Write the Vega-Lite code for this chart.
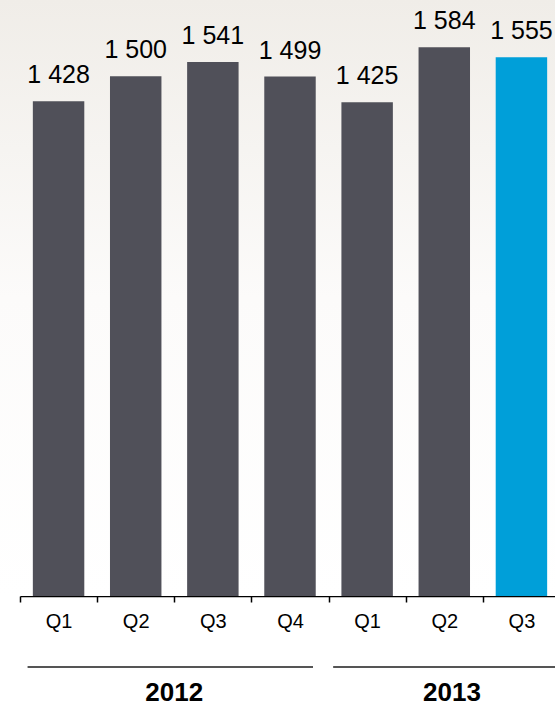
{
  "$schema": "https://vega.github.io/schema/vega-lite/v6.json",
  "width": 555,
  "height": 596,
  "autosize": {"type": "none"},
  "padding": {"left": 0, "top": 0, "right": 0, "bottom": 111},
  "background": "white",
  "config": {
    "view": {"stroke": null},
    "font": "Liberation Sans",
    "locale": {"number": {"decimal": ",", "thousands": " ", "grouping": [3], "currency": ["", ""]}}
  },
  "datasets": {
    "sales": [
      {"quarter": "2012 Q1", "value": 1428},
      {"quarter": "2012 Q2", "value": 1500},
      {"quarter": "2012 Q3", "value": 1541},
      {"quarter": "2012 Q4", "value": 1499},
      {"quarter": "2013 Q1", "value": 1425},
      {"quarter": "2013 Q2", "value": 1584},
      {"quarter": "2013 Q3", "value": 1555}
    ],
    "years": [
      {"year": "2012", "start": "2012 Q1", "end": "2012 Q4", "anchor": "2012 Q3"},
      {"year": "2013", "start": "2013 Q1", "end": "2013 Q3", "anchor": "2013 Q2"}
    ]
  },
  "layer": [
    {
      "data": {"values": [{}]},
      "mark": {
        "type": "rect",
        "fill": {
          "gradient": "linear", "x1": 0, "y1": 0, "x2": 0, "y2": 1,
          "stops": [
            {"offset": 0, "color": "#f0ede8"},
            {"offset": 0.5, "color": "#fcfbfa"},
            {"offset": 1, "color": "#ffffff"}
          ]
        }
      },
      "encoding": {}
    },
    {
      "data": {"name": "sales"},
      "encoding": {
        "x": {
          "field": "quarter", "type": "nominal", "sort": null,
          "scale": {"range": [20, 560], "paddingInner": 0, "paddingOuter": 0},
          "axis": {
            "title": null, "labelAngle": 0, "labelExpr": "slice(datum.label, -2)",
            "labelFontSize": 20, "labelColor": "#000000", "labelPadding": 9,
            "tickSize": 6, "tickBand": "extent", "tickColor": "#000000", "tickWidth": 1.5,
            "domainColor": "#000000", "domainWidth": 1.5, "grid": false
          }
        },
        "y": {
          "field": "value", "type": "quantitative",
          "scale": {"domain": [0, 1720], "nice": false, "zero": true},
          "axis": null
        }
      },
      "layer": [
        {
          "mark": {"type": "bar", "width": {"band": 0.667}},
          "encoding": {
            "color": {
              "condition": {"test": "datum.quarter === '2013 Q3'", "value": "#009fd9"},
              "value": "#505059"
            }
          }
        },
        {
          "mark": {"type": "text", "baseline": "alphabetic", "dy": -18, "fontSize": 25, "color": "#000000"},
          "encoding": {"text": {"field": "value", "type": "quantitative", "format": ",d"}}
        }
      ]
    },
    {
      "data": {"name": "years"},
      "transform": [{"filter": "datum.year === '2012'"}],
      "mark": {"type": "rule", "color": "#555555", "strokeWidth": 2, "xOffset": -31, "x2Offset": 23},
      "encoding": {
        "x": {"field": "start", "type": "nominal", "sort": null},
        "x2": {"field": "end"},
        "y": {"datum": "line", "type": "ordinal", "scale": {"type": "point", "padding": 0, "domain": ["line", "label"], "range": [667, 693]}, "axis": null}
      }
    },
    {
      "data": {"name": "years"},
      "transform": [{"filter": "datum.year === '2013'"}],
      "mark": {"type": "rule", "color": "#555555", "strokeWidth": 2, "xOffset": -34, "x2Offset": 40},
      "encoding": {
        "x": {"field": "start", "type": "nominal", "sort": null},
        "x2": {"field": "end"},
        "y": {"datum": "line", "type": "ordinal", "scale": {"type": "point", "padding": 0, "domain": ["line", "label"], "range": [667, 693]}, "axis": null}
      }
    },
    {
      "data": {"name": "years"},
      "transform": [{"filter": "datum.year === '2012'"}],
      "mark": {"type": "text", "fontSize": 26, "fontWeight": "bold", "color": "#000000", "baseline": "middle"},
      "encoding": {
        "x": {"field": "anchor", "type": "nominal", "sort": null, "bandPosition": 0},
        "y": {"datum": "label", "type": "ordinal", "scale": {"type": "point", "padding": 0, "domain": ["line", "label"], "range": [667, 693]}, "axis": null},
        "text": {"field": "year"}
      }
    },
    {
      "data": {"name": "years"},
      "transform": [{"filter": "datum.year === '2013'"}],
      "mark": {"type": "text", "fontSize": 26, "fontWeight": "bold", "color": "#000000", "baseline": "middle"},
      "encoding": {
        "x": {"field": "anchor", "type": "nominal", "sort": null, "bandPosition": 0.6},
        "y": {"datum": "label", "type": "ordinal", "scale": {"type": "point", "padding": 0, "domain": ["line", "label"], "range": [667, 693]}, "axis": null},
        "text": {"field": "year"}
      }
    }
  ],
  "resolve": {"scale": {"y": "independent"}}
}
